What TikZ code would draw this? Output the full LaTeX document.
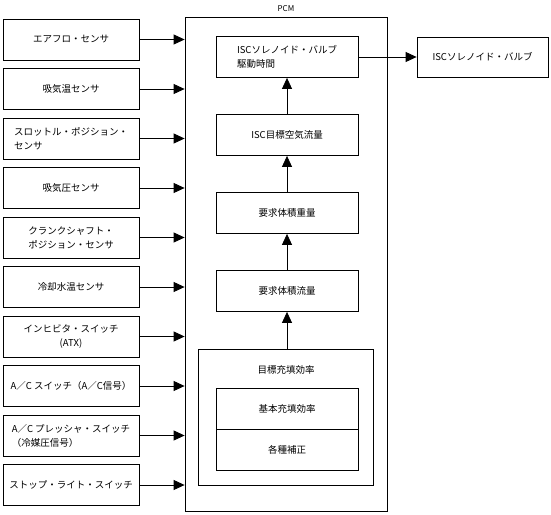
\documentclass[tikz,border=0pt]{standalone}
\usepackage{fontspec}
\setmainfont{Noto Sans CJK JP}
\usepackage{tikz}
\usetikzlibrary{shapes, arrows.meta, positioning}
\tikzstyle{sensor} = [draw, rectangle, minimum height=41pt, minimum width=136pt, align=center, inner sep=2pt]
\tikzstyle{block} = [draw, rectangle, minimum height=41pt, minimum width=142pt, align=center]

\begin{document}
\begin{tikzpicture}[x=1pt, y=-1pt, node distance=49.5pt, line width=0.8pt,
        >={Triangle[length=11pt, width=10pt]}, font=\fontsize{9.5}{14}\selectfont]
        \useasboundingbox (0,0) rectangle (551,514);

        % 入力センサ
        \node [sensor] (afm) at (71,39.5) {エアフロ・センサ};
        \node [sensor, below of=afm] (iat) {吸気温センサ};
        \node [sensor, below of=iat, align=left] (tps) {スロットル・ポジション・\\センサ};
        \node [sensor, below of=tps] (map) {吸気圧センサ};
        \node [sensor, below of=map] (ckp) {クランクシャフト・\\ポジション・センサ};
        \node [sensor, below of=ckp] (ect) {冷却水温センサ};
        \node [sensor, below of=ect] (atx) {インヒビタ・スイッチ\\(ATX)};
        \node [sensor, below of=atx] (ac) {A／C スイッチ（A／C信号）};
        \node [sensor, below of=ac, align=left] (acp) {A／C プレッシャ・スイッチ\\（冷媒圧信号）};
        \node [sensor, below of=acp] (stp) {ストップ・ライト・スイッチ};

        % PCM
        \node [draw, rectangle, minimum width=202pt, minimum height=494pt] (pcm) at (286,264) {};
        \node [above=1pt of pcm, font=\fontsize{8}{10}\selectfont] (pcmlabel) {PCM};

        % PCM内部の演算
        \node [block, align=left] (drive) at (287,57) {ISCソレノイド・バルブ\\駆動時間};
        \node [block, below of=drive, node distance=78pt] (target) {ISC目標空気流量};
        \node [block, below of=target, node distance=78pt] (weight) {要求体積重量};
        \node [block, below of=weight, node distance=78pt] (flow) {要求体積流量};
        \node [draw, rectangle, minimum width=175pt, minimum height=136pt] (fill) at (286,417) {};
        \node [below=13pt of fill.north] (filllabel) {目標充填効率};
        \node [block] (base) at (287,408.5) {基本充填効率};
        \node [block, below of=base, node distance=41pt] (corr) {各種補正};

        % 出力
        \node [draw, rectangle, minimum width=131pt, minimum height=40pt] (valve) at (482.5,57) {ISCソレノイド・バルブ};

        \foreach \s in {afm, iat, tps, map, ckp, ect, atx, ac, acp, stp}
            \draw [->] (\s.east) -- (\s.east -| pcm.west);
        \draw [->] (fill.north -| flow.south) -- (flow);
        \draw [->] (flow) -- (weight);
        \draw [->] (weight) -- (target);
        \draw [->] (target) -- (drive);
        \draw [->] (drive) -- (valve);
    \end{tikzpicture}
\end{document}
